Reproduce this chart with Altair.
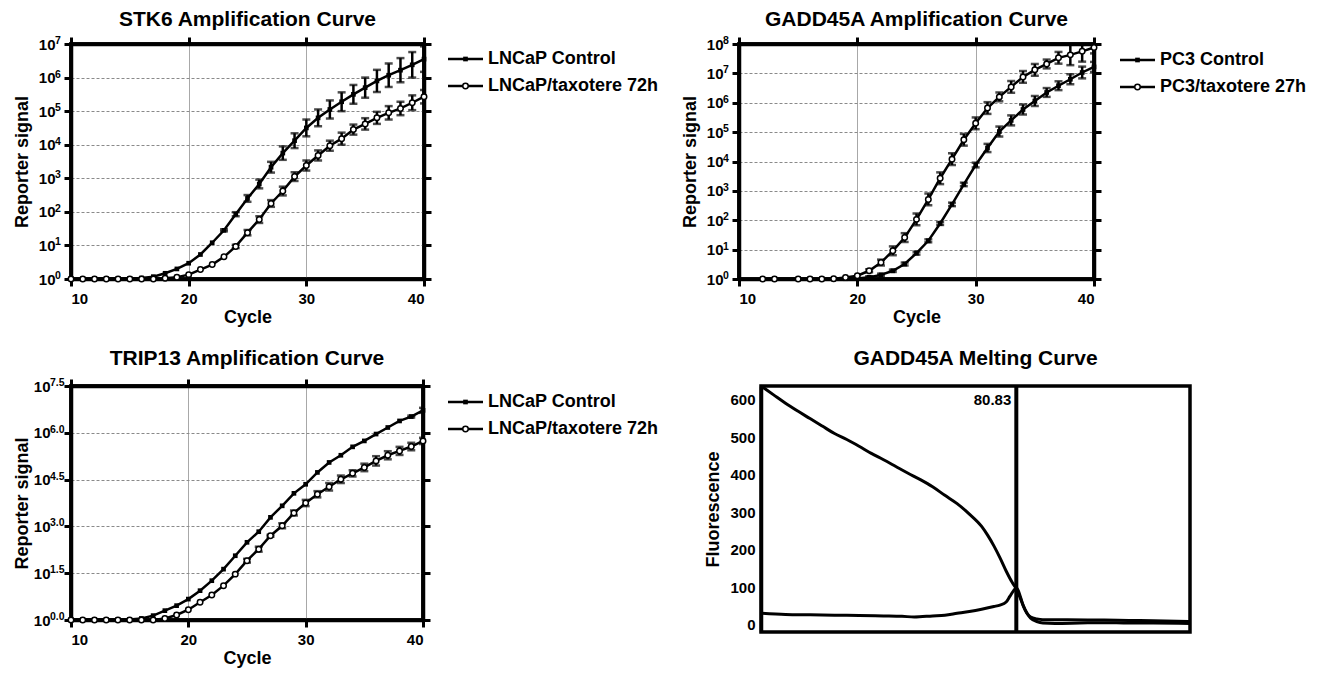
import altair as alt
import pandas as pd

FONT = "Liberation Sans"

# ---------------- STK6 amplification (log10 of reporter signal) ----------------
stk6_cycles = list(range(10, 41))
stk6_ctrl_log = [0, 0, 0, 0.01, 0.01, 0.02, 0.03, 0.07, 0.17, 0.3, 0.47, 0.73, 1.08, 1.45, 1.93,
                 2.4, 2.83, 3.33, 3.75, 4.12, 4.5, 4.8, 5.05, 5.28, 5.5, 5.7, 5.9, 6.07, 6.22, 6.38, 6.55]
stk6_ctrl_err = [0] * 13 + [0.03, 0.06, 0.1, 0.13, 0.16, 0.2, 0.22, 0.25, 0.25, 0.27, 0.28, 0.28,
                            0.3, 0.33, 0.35, 0.36, 0.38, 0.38]
stk6_trt_log = [0] * 8 + [0.02, 0.05, 0.13, 0.28, 0.43, 0.66, 0.97, 1.38, 1.77, 2.25, 2.62, 3.05,
                          3.38, 3.68, 3.97, 4.18, 4.45, 4.62, 4.8, 4.95, 5.08, 5.25, 5.43]
stk6_trt_err = [0] * 14 + [0.05, 0.08, 0.1, 0.1, 0.13, 0.13, 0.15, 0.15, 0.15, 0.18, 0.15, 0.17,
                           0.18, 0.2, 0.2, 0.22, 0.2]
stk6_names = ["LNCaP Control", "LNCaP/taxotere 72h"]
stk6_tick_log = [0, 1, 2, 3, 4, 5, 6, 7]
stk6_tick_text = ["0", "1", "2", "3", "4", "5", "6", "7"]

# ---------------- GADD45A amplification ----------------
gadd_cycles = [12, 13] + list(range(15, 41))
gadd_ctrl_log = [0, 0, 0, 0, 0, 0, 0.01, 0.02, 0.06, 0.14, 0.28, 0.51, 0.88, 1.3, 1.89, 2.54, 3.22,
                 3.88, 4.46, 5.02, 5.4, 5.77, 6.06, 6.35, 6.58, 6.8, 7.03, 7.22]
gadd_ctrl_err = [0] * 8 + [0.03, 0.04, 0.04, 0.05, 0.05, 0.05, 0.05, 0.06, 0.06, 0.08, 0.14, 0.17,
                           0.17, 0.17, 0.17, 0.15, 0.15, 0.17, 0.2, 0.17]
gadd_trt_log = [0, 0, 0, 0, 0, 0.01, 0.05, 0.11, 0.28, 0.56, 0.96, 1.41, 2.03, 2.71, 3.43, 4.08,
                4.74, 5.3, 5.82, 6.2, 6.54, 6.88, 7.12, 7.32, 7.53, 7.63, 7.75, 7.88]
gadd_trt_err = [0] * 8 + [0.05, 0.1, 0.15, 0.15, 0.2, 0.2, 0.2, 0.2, 0.2, 0.2, 0.2, 0.15, 0.2, 0.2,
                          0.2, 0.15, 0.2, 0.35, 0.35, 0.2]
gadd_names = ["PC3 Control", "PC3/taxotere 27h"]
gadd_tick_log = [0, 1, 2, 3, 4, 5, 6, 7, 8]
gadd_tick_text = ["0", "1", "2", "3", "4", "5", "6", "7", "8"]

# ---------------- TRIP13 amplification ----------------
trip_cycles = list(range(10, 41))
trip_ctrl_log = [0, 0, 0, 0, 0.01, 0.02, 0.05, 0.14, 0.3, 0.46, 0.67, 0.94, 1.26, 1.63, 2.06, 2.49,
                 2.83, 3.29, 3.66, 4.06, 4.35, 4.73, 5.05, 5.28, 5.55, 5.74, 5.96, 6.17, 6.38, 6.52, 6.72]
trip_ctrl_err = [0] * 29 + [0.03, 0.08]
trip_trt_log = [0] * 8 + [0.05, 0.16, 0.33, 0.57, 0.8, 1.1, 1.47, 1.9, 2.27, 2.7, 3.02, 3.43, 3.75,
                          4.03, 4.27, 4.51, 4.7, 4.89, 5.1, 5.28, 5.42, 5.56, 5.74]
trip_trt_err = [0] * 15 + [0.06, 0.08, 0.03, 0.08, 0.08, 0.1, 0.1, 0.12, 0.12, 0.1, 0.12, 0.15,
                           0.13, 0.13, 0.12, 0.1]
trip_names = ["LNCaP Control", "LNCaP/taxotere 72h"]
trip_tick_log = [0, 1.5, 3, 4.5, 6, 7.5]
trip_tick_text = ["0.0", "1.5", "3.0", "4.5", "6.0", "7.5"]

# ---------------- GADD45A melting curve ----------------
melt_temp = [60, 61, 62, 63, 64, 65, 66, 67, 68, 69, 70, 71, 72, 73, 74, 75, 76, 77, 78, 78.5, 79,
             79.5, 80, 80.5, 80.83, 81.1, 81.4, 81.7, 82, 82.5, 83, 84, 86, 88, 90, 92, 95]
melt_fluor = [637, 614, 591, 570, 550, 530, 510, 494, 476, 457, 440, 422, 404, 387, 368, 345, 323,
              295, 262, 238, 210, 178, 143, 112, 95, 75, 50, 30, 17, 8, 4, 3, 4, 5, 4, 4, 3]
deriv_temp = [60, 62, 64, 66, 68, 70, 71.5, 72.5, 74, 75, 76, 77, 78, 79, 79.5, 80, 80.3, 80.6,
              80.83, 81, 81.2, 81.4, 81.7, 82, 82.5, 83, 85, 88, 90, 92, 95]
deriv_fluor = [30, 27, 26, 25, 24, 23, 22, 20, 23, 25, 30, 35, 41, 48, 52, 60, 75, 90, 98, 90, 70,
               50, 30, 20, 15, 13, 13, 12, 11, 10, 8]
melt_tm = [80.83]


def amp_panel(title, cycles, ctrl_log, ctrl_err, trt_log, trt_err, names, tick_log, tick_text,
              width, height, label_pad, exp_x, leg_x0, leg_ys, title_offset):
    rows = []
    for name, lg, er in ((names[0], ctrl_log, ctrl_err), (names[1], trt_log, trt_err)):
        for c, v, e in zip(cycles, lg, er):
            rows.append({"cycle": c, "series": name, "value": 10 ** v,
                         "lo": 10 ** max(v - e, 0), "hi": 10 ** (v + e), "err": e})
    df = pd.DataFrame(rows)
    tick_vals = [10 ** t for t in tick_log]
    xs = alt.Scale(domain=[10, 40], nice=False, zero=False)
    ys = alt.Scale(type="log", domain=[1, tick_vals[-1]], nice=False)
    base = alt.Chart(df)

    one = pd.DataFrame({"k": [0]})
    border = alt.Chart(one).mark_rect(fillOpacity=0, stroke="black", strokeWidth=3.5).encode(
        x=alt.value(0), x2=alt.value(width), y=alt.value(0), y2=alt.value(height))

    line = base.mark_line(color="black", strokeWidth=2.5).encode(
        x=alt.X("cycle:Q", scale=xs,
                axis=alt.Axis(values=[10, 20, 30, 40], format="d", grid=True, gridColor="#a8a8a8",
                              gridWidth=1, title="Cycle", titleY=29.5, labelPadding=5)),
        y=alt.Y("value:Q", scale=ys,
                axis=alt.Axis(values=tick_vals, labelExpr="'10'", grid=True, gridColor="#8a8a8a",
                              gridWidth=1, gridDash=[3, 2], title="Reporter signal", titleX=-40,
                              labelPadding=label_pad)),
        detail="series:N")

    errs = base.transform_filter("datum.err > 0")
    err_rule = errs.mark_rule(color="black", strokeWidth=2.5, clip=True).encode(
        x=alt.X("cycle:Q", scale=xs, axis=None),
        y=alt.Y("lo:Q", scale=ys, axis=None), y2="hi:Q")
    cap_lo = errs.mark_tick(orient="horizontal", size=8, thickness=2.5, color="black", clip=True).encode(
        x=alt.X("cycle:Q", scale=xs, axis=None), y=alt.Y("lo:Q", scale=ys, axis=None))
    cap_hi = errs.mark_tick(orient="horizontal", size=8, thickness=2.5, color="black", clip=True).encode(
        x=alt.X("cycle:Q", scale=xs, axis=None), y=alt.Y("hi:Q", scale=ys, axis=None))

    pts_ctrl = base.transform_filter(alt.datum.series == names[0]).mark_point(
        shape="square", filled=True, size=22, color="black", opacity=1).encode(
        x=alt.X("cycle:Q", scale=xs, axis=None), y=alt.Y("value:Q", scale=ys, axis=None))
    pts_trt = base.transform_filter(alt.datum.series == names[1]).mark_point(
        shape="circle", filled=True, fill="white", stroke="black", strokeWidth=1.5, size=30,
        opacity=1).encode(
        x=alt.X("cycle:Q", scale=xs, axis=None), y=alt.Y("value:Q", scale=ys, axis=None))

    mirror = base.mark_point(opacity=0).encode(
        x=alt.X("cycle:Q", scale=xs,
                axis=alt.Axis(orient="top", values=[10, 20, 30, 40], labels=False, title=None,
                              grid=False, ticks=True, tickSize=7, tickWidth=3, tickColor="black")),
        y=alt.Y("value:Q", scale=ys,
                axis=alt.Axis(orient="right", values=tick_vals, labels=False, title=None,
                              grid=False, ticks=True, tickSize=7, tickWidth=3, tickColor="black",
                              minExtent=0)))

    exps = alt.Chart(pd.DataFrame({"v": tick_vals, "e": tick_text})).mark_text(
        align="left", baseline="middle", dy=-3, fontSize=10.5, fontWeight="bold", font=FONT,
        color="black").encode(
        x=alt.value(exp_x), y=alt.Y("v:Q", scale=ys, axis=None), text="e:N")

    legend_layers = []
    for i, name in enumerate(names):
        d = alt.Chart(pd.DataFrame({"label": [name]}))
        legend_layers.append(d.mark_rule(color="black", strokeWidth=2.5).encode(
            x=alt.value(leg_x0), x2=alt.value(leg_x0 + 35), y=alt.value(leg_ys[i])))
        if i == 0:
            legend_layers.append(d.mark_point(shape="square", filled=True, size=22, color="black",
                                              opacity=1).encode(
                x=alt.value(leg_x0 + 17.5), y=alt.value(leg_ys[i])))
        else:
            legend_layers.append(d.mark_point(shape="circle", filled=True, fill="white",
                                              stroke="black", strokeWidth=1.5, size=30,
                                              opacity=1).encode(
                x=alt.value(leg_x0 + 17.5), y=alt.value(leg_ys[i])))
        legend_layers.append(d.mark_text(align="left", baseline="middle", fontSize=18,
                                         fontWeight="bold", font=FONT, color="black").encode(
            x=alt.value(leg_x0 + 40), y=alt.value(leg_ys[i]), text="label:N"))

    return alt.layer(border, line, err_rule, cap_lo, cap_hi, pts_ctrl, pts_trt, mirror, exps,
                     *legend_layers).resolve_axis(x="independent", y="independent").properties(
        width=width, height=height,
        title=alt.TitleParams(title, fontSize=21, fontWeight="bold", font=FONT, anchor="middle",
                              baseline="top", offset=title_offset, color="black"))


p1 = amp_panel("STK6 Amplification Curve", stk6_cycles, stk6_ctrl_log, stk6_ctrl_err,
               stk6_trt_log, stk6_trt_err, stk6_names, stk6_tick_log, stk6_tick_text,
               353, 235, 9, -16, 377, [15, 42], 6)
p2 = amp_panel("GADD45A Amplification Curve", gadd_cycles, gadd_ctrl_log, gadd_ctrl_err,
               gadd_trt_log, gadd_trt_err, gadd_names, gadd_tick_log, gadd_tick_text,
               355, 235, 9, -16, 381, [16, 43], 6)
p3 = amp_panel("TRIP13 Amplification Curve", trip_cycles, trip_ctrl_log, trip_ctrl_err,
               trip_trt_log, trip_trt_err, trip_names, trip_tick_log, trip_tick_text,
               352, 234, 14, -21, 377, [16, 43], 9)

# melting panel
mrows = [{"temp": t, "fluor": f, "curve": "melt"} for t, f in zip(melt_temp, melt_fluor)]
mrows += [{"temp": t, "fluor": f, "curve": "deriv"} for t, f in zip(deriv_temp, deriv_fluor)]
mdf = pd.DataFrame(mrows)
mxs = alt.Scale(domain=[60, 95], nice=False, zero=False)
mys = alt.Scale(domain=[-20, 637], nice=False, zero=False)
mline = alt.Chart(mdf).mark_line(color="black", strokeWidth=3, interpolate="monotone").encode(
    x=alt.X("temp:Q", scale=mxs,
            axis=alt.Axis(values=[60, 70, 80, 90], ticks=False, tickSize=0, labelPadding=5,
                          grid=False, title="°C", titleY=17)),
    y=alt.Y("fluor:Q", scale=mys,
            axis=alt.Axis(values=[0, 100, 200, 300, 400, 500, 600], ticks=False, tickSize=0,
                          labelPadding=6, grid=False, title="Fluorescence", titleX=-39)),
    detail="curve:N")
tmdf = pd.DataFrame({"tm": melt_tm})
mrule = alt.Chart(tmdf).mark_rule(color="black", strokeWidth=4).encode(
    x=alt.X("tm:Q", scale=mxs, axis=None))
mtext = alt.Chart(tmdf).mark_text(align="right", baseline="middle", dx=-5, fontSize=15,
                                  fontWeight="bold", font=FONT, color="black").encode(
    x=alt.X("tm:Q", scale=mxs, axis=None), y=alt.value(14),
    text=alt.Text("tm:Q", format=".2f"))
p4 = alt.layer(mline, mrule, mtext).properties(
    width=429, height=246,
    title=alt.TitleParams("GADD45A Melting Curve", fontSize=21, fontWeight="bold", font=FONT,
                          anchor="middle", baseline="top", offset=11, color="black"))

row1 = alt.hconcat(p1, p2, spacing=315, bounds="flush")
row2 = alt.hconcat(p3, p4, spacing=338, bounds="flush")

chart = alt.vconcat(row1, row2, spacing=16).properties(
    padding={"left": 3, "top": -2, "right": 0, "bottom": 0}
).configure_view(stroke="black", strokeWidth=3.5).configure_axis(
    labelFont=FONT, labelFontSize=15, labelFontWeight="bold", labelColor="black",
    titleFont=FONT, titleFontSize=18, titleFontWeight="bold", titleColor="black",
    domainColor="black", domainWidth=3.5, tickColor="black", tickWidth=3, tickSize=7
).configure_text(font=FONT)

chart.save("out.html", embed_options={"renderer": "svg", "actions": False})
